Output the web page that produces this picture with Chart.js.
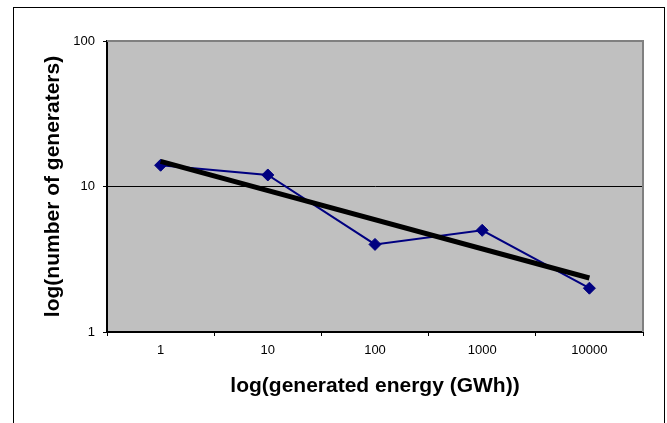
<!DOCTYPE html>
<html lang="en">
<head>
<meta charset="utf-8">
<title>Generators vs generated energy</title>
<script src="https://cdn.jsdelivr.net/npm/chart.js@4.4.1/dist/chart.umd.min.js"></script>
<style>
    html, body { margin: 0; padding: 0; background: #fff; }
    #wrap { position: relative; width: 667px; height: 423px; }
</style>
</head>
<body>
<div id="wrap">
    <canvas id="myChart" width="667" height="423"></canvas>
</div>

<script>
    // categories on the x axis (GWh)
    const energyLabels = ['1', '10', '100', '1000', '10000'];
    // number of generators per category
    const generators = [14, 12, 4, 5, 2];
    // trend line (only the two ends, straight in between)
    const trendValues = [14.9, null, null, null, 2.35];
    const yTicks = [1, 10, 100];

    const FONT = "Arial, 'Liberation Sans', sans-serif";

    const frame = {
        id: 'frame',
        beforeDraw(chart) {
            const {ctx, chartArea: a} = chart;
            ctx.save();
            ctx.fillStyle = '#c0c0c0';
            ctx.fillRect(a.left, a.top, a.right - a.left, a.bottom - a.top);
            ctx.restore();
        },
        beforeDatasetsDraw(chart) {
            const {ctx, chartArea: a} = chart;
            ctx.save();
            ctx.strokeStyle = '#808080';
            ctx.lineWidth = 2;
            ctx.beginPath();
            ctx.moveTo(a.left, a.top);
            ctx.lineTo(a.right, a.top);
            ctx.lineTo(a.right, a.bottom);
            ctx.stroke();
            ctx.restore();
        },
        afterDraw(chart) {
            const {ctx, chartArea: a} = chart;
            const midX = (a.left + a.right) / 2;
            const midY = (a.top + a.bottom) / 2;
            ctx.save();
            // outer chart frame
            ctx.strokeStyle = '#000';
            ctx.lineWidth = 1;
            ctx.strokeRect(13.5, 7.5, 651, 500);
            // axis titles, centred on the plot area
            ctx.fillStyle = '#000';
            ctx.font = 'bold 21px ' + FONT;
            ctx.textAlign = 'center';
            ctx.textBaseline = 'alphabetic';
            ctx.fillText('log(generated energy (GWh))', midX, 392);
            ctx.translate(59, midY);
            ctx.rotate(-Math.PI / 2);
            ctx.fillText('log(number of generaters)', 0, 0);
            ctx.restore();
        }
    };

    new Chart(document.getElementById('myChart'), {
        type: 'line',
        data: {
            labels: energyLabels,
            datasets: [{
                label: 'trend',
                data: trendValues,
                borderColor: '#000',
                borderWidth: 5,
                pointRadius: 0,
                spanGaps: true,
                tension: 0
            }, {
                label: 'generators',
                data: generators,
                borderColor: '#000080',
                backgroundColor: '#000080',
                borderWidth: 2,
                pointStyle: 'rectRot',
                pointRadius: 6,
                pointBorderWidth: 1,
                tension: 0
            }]
        },
        options: {
            responsive: false,
            animation: false,
            layout: {padding: {top: 41, right: 24, left: 0, bottom: 0}},
            plugins: {
                legend: {display: false},
                tooltip: {enabled: false}
            },
            scales: {
                x: {
                    type: 'category',
                    offset: true,
                    grid: {
                        offset: true,
                        drawOnChartArea: false,
                        tickLength: 4,
                        tickColor: '#000',
                        tickWidth: 1
                    },
                    border: {color: '#000', width: 2},
                    ticks: {
                        color: '#000',
                        font: {family: FONT, size: 13},
                        padding: 7,
                        maxRotation: 0
                    },
                    afterFit(scale) { scale.height = 91; }
                },
                y: {
                    type: 'logarithmic',
                    min: 1,
                    max: 100,
                    afterBuildTicks(scale) {
                        scale.ticks = yTicks.map(v => ({value: v}));
                    },
                    grid: {
                        color: ctx => (ctx.tick && ctx.tick.value === 10) ? '#000' : 'rgba(0,0,0,0)',
                        lineWidth: 1,
                        tickLength: 4,
                        tickColor: '#000',
                        tickWidth: 1
                    },
                    border: {color: '#000', width: 2},
                    ticks: {
                        color: '#000',
                        font: {family: FONT, size: 13},
                        padding: 8,
                        callback: v => String(v)
                    },
                    afterFit(scale) { scale.width = 107; }
                }
            }
        },
        plugins: [frame]
    });
</script>
</body>
</html>
